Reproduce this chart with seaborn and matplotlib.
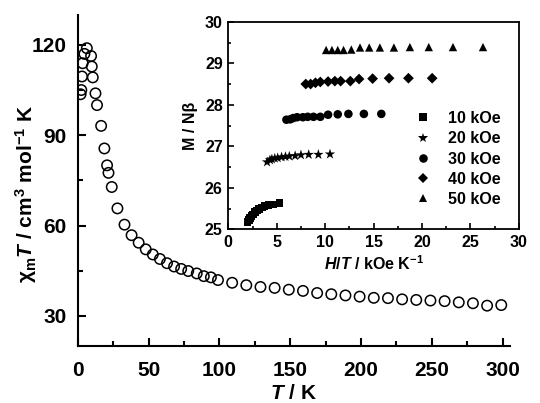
import matplotlib
matplotlib.use('Agg')
import pandas as pd
import matplotlib.pyplot as plt
from matplotlib.ticker import MultipleLocator
import seaborn as sns

# main panel: chi_m T vs T
temp = [2.0, 2.5, 3.0, 3.5, 4.7, 6.4, 9.4, 9.9, 10.6, 12.5, 13.6, 16.5, 18.8,
        20.7, 21.7, 24.0, 28, 33, 38, 43, 48, 53, 58, 63, 68, 73, 78, 84, 89,
        94, 99, 109, 119, 129, 139, 149, 159, 169, 179, 189, 199, 209, 219,
        229, 239, 249, 259, 269, 279, 289, 299]
chi_t = [103.6, 105.0, 109.5, 113.9, 117.0, 118.9, 116.3, 112.8, 109.2, 103.9,
         100.0, 93.1, 85.6, 80.0, 77.5, 72.8, 65.7, 60.3, 56.8, 54.3, 52.1,
         50.4, 48.9, 47.5, 46.4, 45.6, 44.9, 44.1, 43.2, 42.8, 41.9, 41.0,
         40.2, 39.6, 39.3, 38.7, 38.3, 37.6, 37.2, 36.8, 36.4, 36.0, 35.9,
         35.5, 35.3, 35.1, 34.9, 34.5, 34.2, 33.4, 33.6]

# inset: M vs H/T
fields = ['10 kOe', '20 kOe', '30 kOe', '40 kOe', '50 kOe']
ht_10 = [5.3, 4.65, 4.15, 3.75, 3.45, 3.15, 2.95, 2.75, 2.55, 2.4, 2.25, 2.15, 2.0]
m_10 = [25.64, 25.6, 25.58, 25.56, 25.53, 25.49, 25.45, 25.41, 25.36, 25.32, 25.27, 25.22, 25.17]
ht_20 = [10.5, 9.3, 8.3, 7.5, 6.9, 6.3, 5.9, 5.5, 5.1, 4.8, 4.5, 4.3, 4.0]
m_20 = [26.81, 26.8, 26.8, 26.79, 26.77, 26.76, 26.75, 26.74, 26.72, 26.71, 26.69, 26.67, 26.62]
ht_30 = [15.8, 14.0, 12.4, 11.3, 10.3, 9.5, 8.8, 8.2, 7.7, 7.1, 6.7, 6.4, 6.0]
m_30 = [27.78, 27.78, 27.78, 27.77, 27.76, 27.71, 27.71, 27.71, 27.7, 27.7, 27.68, 27.65, 27.64]
ht_40 = [21.05, 18.6, 16.6, 14.9, 13.5, 12.6, 11.6, 11.0, 10.3, 9.5, 9.0, 8.5, 8.0]
m_40 = [28.64, 28.64, 28.64, 28.63, 28.62, 28.57, 28.57, 28.57, 28.56, 28.55, 28.53, 28.5, 28.5]
ht_50 = [26.3, 23.2, 20.7, 18.75, 17.1, 15.65, 14.55, 13.6, 12.7, 11.9, 11.3, 10.7, 10.1]
m_50 = [29.39, 29.39, 29.39, 29.39, 29.38, 29.38, 29.38, 29.38, 29.33, 29.32, 29.32, 29.32, 29.32]

sns.set_style('ticks')
plt.rcParams.update({
    'font.family': ['Liberation Sans', 'DejaVu Sans'],
    'font.weight': 'bold',
    'axes.labelweight': 'bold',
    'mathtext.fontset': 'custom',
    'mathtext.rm': 'Liberation Sans:bold',
    'mathtext.it': 'Liberation Sans:bold:italic',
    'mathtext.bf': 'Liberation Sans:bold',
    'axes.edgecolor': 'black',
    'xtick.color': 'black',
    'ytick.color': 'black',
    'text.color': 'black',
    'axes.labelcolor': 'black',
})

fig = plt.figure(figsize=(5.4, 4.03), dpi=100)
ax = fig.add_axes([0.144, 0.1414, 0.8, 0.822])
sns.scatterplot(x=temp, y=chi_t, ax=ax, marker='o', s=56,
                facecolors='none', edgecolors='black', linewidths=1.1)
ax.set_xlim(0, 305)
ax.set_ylim(20, 130)
ax.xaxis.set_major_locator(MultipleLocator(50))
ax.xaxis.set_minor_locator(MultipleLocator(25))
ax.yaxis.set_major_locator(MultipleLocator(30))
ax.yaxis.set_minor_locator(MultipleLocator(15))
ax.tick_params(which='both', direction='in', width=1.5, labelsize=15, pad=8)
ax.tick_params(axis='x', pad=11)
ax.tick_params(which='major', length=6)
ax.tick_params(which='minor', length=3.5)
for s in ['top', 'right']:
    ax.spines[s].set_visible(False)
for s in ['left', 'bottom']:
    ax.spines[s].set_linewidth(1.5)
ax.set_xlabel(r'$\mathit{T}$ / K', fontsize=15, labelpad=3)
ax.set_ylabel(r'χ$_\mathrm{m}$$\mathit{T}$ / cm$^\mathrm{3}$ mol$^\mathrm{-1}$ K',
              fontsize=15)
ax.yaxis.set_label_coords(-0.09, 0.46)

# inset
df = pd.DataFrame({
    'ht': ht_10 + ht_20 + ht_30 + ht_40 + ht_50,
    'm': m_10 + m_20 + m_30 + m_40 + m_50,
    'field': [f for f, h in zip(fields, [ht_10, ht_20, ht_30, ht_40, ht_50]) for _ in h],
})
axin = fig.add_axes([0.4228, 0.431, 0.538, 0.515])
sns.scatterplot(data=df, x='ht', y='m', style='field', size='field', ax=axin,
                markers=dict(zip(fields, ['s', '*', 'o', 'D', '^'])),
                sizes=dict(zip(fields, [30, 62, 38, 30, 36])),
                color='black', linewidth=0)
axin.set_xlim(0, 30)
axin.set_ylim(25, 30)
axin.xaxis.set_major_locator(MultipleLocator(5))
axin.xaxis.set_minor_locator(MultipleLocator(2.5))
axin.yaxis.set_major_locator(MultipleLocator(1))
axin.yaxis.set_minor_locator(MultipleLocator(0.5))
axin.tick_params(which='both', direction='in', width=1.2, labelsize=11.5, pad=4)
axin.tick_params(which='major', length=4)
axin.tick_params(which='minor', length=2.5)
for s in axin.spines.values():
    s.set_linewidth(1.3)
axin.set_xlabel(r'$\mathit{H/T}$ / kOe K$^\mathrm{-1}$', fontsize=11.5, labelpad=3)
axin.set_ylabel('M / Nβ', fontsize=11.5, labelpad=5)
sns.move_legend(axin, 'upper left', bbox_to_anchor=(0.642, 0.57), frameon=False,
                title=None, handlelength=1, handletextpad=1.1, labelspacing=0.33,
                borderpad=0, borderaxespad=0, fontsize=11.5)

fig.savefig('out.png', dpi=100)
